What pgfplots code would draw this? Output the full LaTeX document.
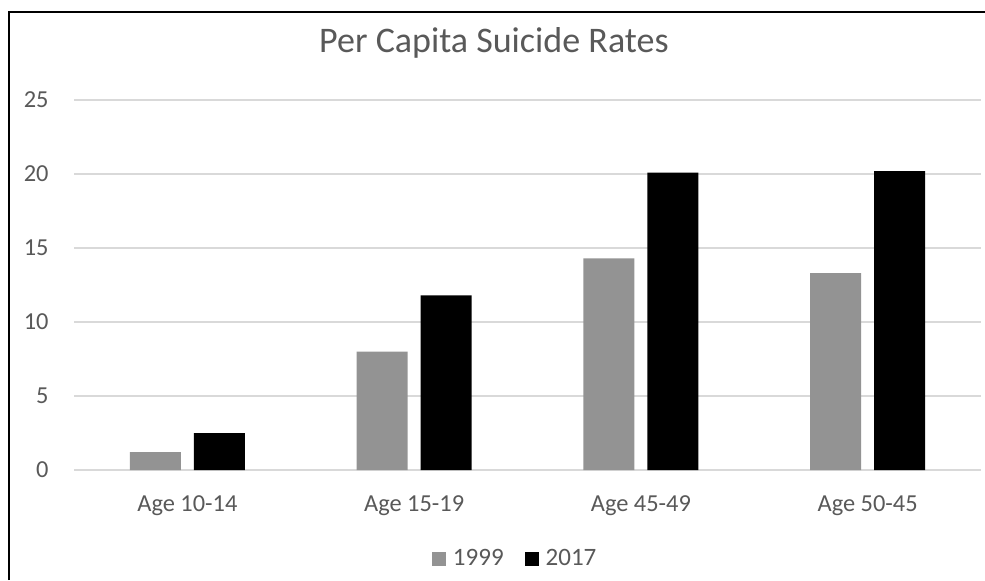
\documentclass[border=0pt]{standalone}
\usepackage{fontspec}
\setmainfont{Carlito}
\usepackage{pgfplots}
\pgfplotsset{compat=1.18}
\definecolor{txt}{HTML}{595959}
\definecolor{gridc}{HTML}{D9D9D9}
\definecolor{bargray}{HTML}{939393}
\begin{document}
\begin{tikzpicture}
\path[use as bounding box] (0,0) rectangle (492.5pt,290pt);
\draw[line width=1.3pt] (4.5pt,0pt) -- (4.5pt,284pt) -- (492.5pt,284pt);
\begin{axis}[
  at={(37pt,55pt)}, anchor=south west,
  scale only axis, width=453.5pt, height=185pt,
  xmin=-0.5, xmax=3.5, ymin=0, ymax=25,
  xtick={0,1,2,3},
  xticklabels={Age 10-14, Age 15-19, Age 45-49, Age 50-45},
  ytick={0,5,10,15,20,25},
  /pgf/number format/assume math mode=true,
  axis line style={draw=none},
  major tick length=0pt,
  ymajorgrids,
  grid style={color=gridc, line width=0.8pt},
  tick label style={font=\fontsize{12.2}{14}\selectfont, text=txt},
  xticklabel style={anchor=base, inner sep=0pt, yshift=-20.5pt},
  yticklabel style={anchor=east, inner sep=0pt, xshift=-12.5pt},
  title={Per Capita Suicide Rates},
  title style={at={(0.463,1.097)}, anchor=base, inner sep=0pt, font=\fontsize{18}{21}\selectfont, text=txt},
  legend columns=2,
  legend style={draw=none, at={(0.4875,-0.24)}, anchor=center, inner sep=0pt,
    font=\fontsize{12.5}{14}\selectfont, text=txt,
    /tikz/every even column/.append style={column sep=8.5pt}},
  legend image code/.code={\fill[#1] (0pt,-3.5pt) rectangle (7pt,3.5pt); \path (8.5pt,0pt);},
]
\addplot[ybar, bar width=25.5pt, bar shift=-16pt, fill=bargray, draw=none]
  coordinates {(0,1.2) (1,8.0) (2,14.3) (3,13.3)};
\addlegendentry{1999}
\addplot[ybar, bar width=25.5pt, bar shift=16pt, fill=black, draw=none]
  coordinates {(0,2.5) (1,11.8) (2,20.1) (3,20.2)};
\addlegendentry{2017}
\end{axis}
\end{tikzpicture}
\end{document}
